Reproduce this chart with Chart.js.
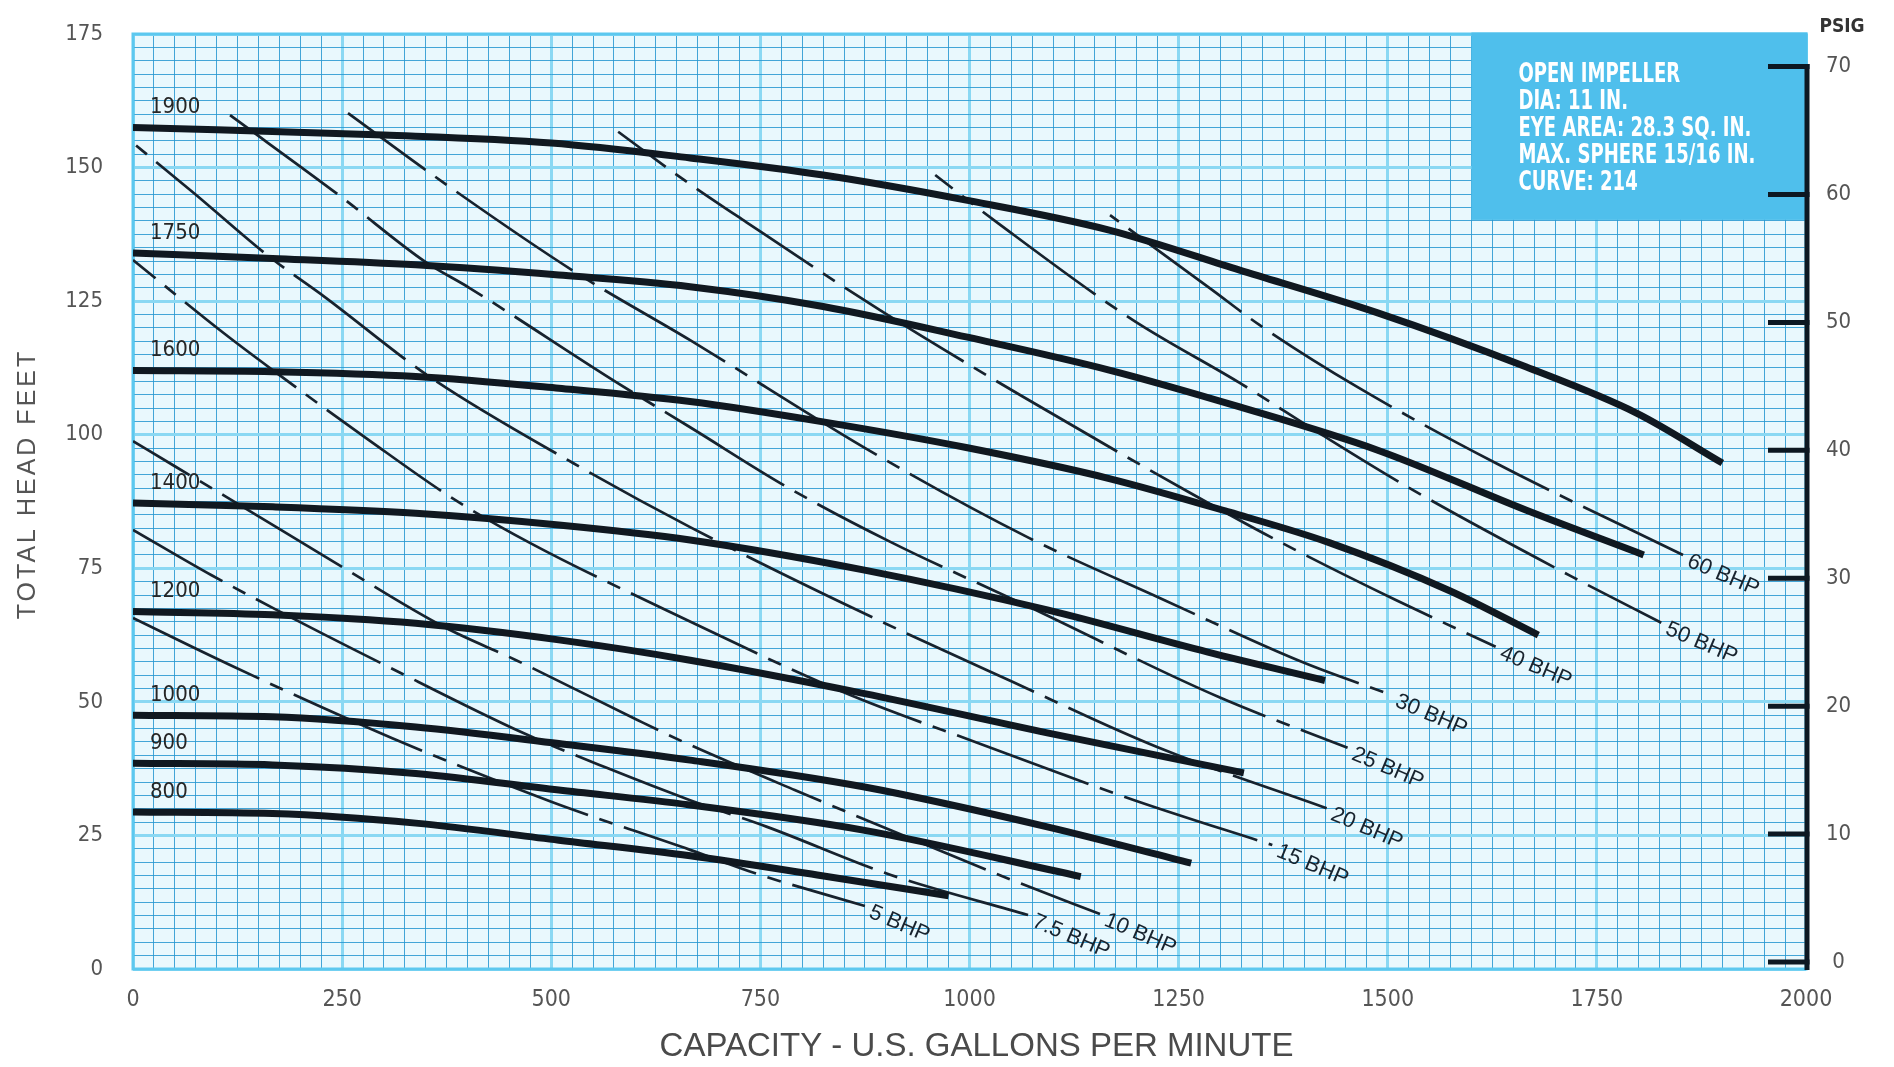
<!DOCTYPE html>
<html>
<head>
<meta charset="utf-8">
<title>Pump performance curve 214</title>
<script src="https://cdn.jsdelivr.net/npm/chart.js@4.4.1/dist/chart.umd.min.js"></script>
<style>
  html, body { margin: 0; padding: 0; background: #ffffff; }
  #wrap { width: 1894px; height: 1067px; }
</style>
</head>
<body>
<div id="wrap"><canvas id="pump" width="1894" height="1067"></canvas></div>
<script>
// ---- Axis tick values ----
const capacityTicks = [0, 250, 500, 750, 1000, 1250, 1500, 1750, 2000]; // U.S. GPM
const headTicks = [0, 25, 50, 75, 100, 125, 150, 175];                   // feet
const psigTicks = [0, 10, 20, 30, 40, 50, 60, 70];                       // PSIG

// ---- Head-capacity curves, [gpm, feet] per impeller speed (RPM) ----
const speedLabels = ['1900', '1750', '1600', '1400', '1200', '1000', '900', '800'];
const head1900 = [[0,157.5],[300,156.1],[500,154.6],[666,151.8],[825,148.6],[996,143.9],[1167,138.3],[1323,130.8],[1488,122.8],[1665,112.7],[1798,104.0],[1900,94.7]];
const head1750 = [[0,134.0],[167,133.0],[338,131.8],[509,129.9],[666,127.7],[825,124.0],[996,118.3],[1167,112.1],[1323,105.2],[1488,97.1],[1665,85.9],[1806,77.5]];
const head1600 = [[0,112.0],[167,111.8],[338,110.9],[509,108.7],[666,106.2],[825,102.4],[996,97.6],[1167,91.8],[1311,85.5],[1430,79.8],[1574,70.8],[1680,62.5]];
const head1400 = [[0,87.2],[167,86.5],[338,85.3],[509,83.1],[666,80.3],[873,74.7],[1093,67.2],[1285,59.3],[1425,54.0]];
const head1200 = [[0,66.9],[167,66.3],[338,64.7],[509,61.6],[666,57.8],[873,51.6],[1093,44.2],[1328,36.7]];
const head1000 = [[0,47.5],[167,47.2],[338,45.3],[509,42.2],[666,39.1],[873,34.1],[1093,26.6],[1265,19.8]];
const head900  = [[0,38.5],[167,38.2],[338,36.6],[509,33.5],[666,30.7],[873,26.0],[1133,17.3]];
const head800  = [[0,29.4],[167,29.1],[338,27.3],[509,24.1],[666,21.2],[818,17.6],[975,13.7]];

// ---- Constant brake-horsepower lines, [gpm, feet] ----
const bhpLabels = ['5 BHP', '7.5 BHP', '10 BHP', '15 BHP', '20 BHP', '25 BHP', '30 BHP', '40 BHP', '50 BHP', '60 BHP'];
const bhp5   = [[0,65.7],[116,56.9],[310,43.2],[500,31.3],[666,22.3],[750,17.6],[875,11.8]];
const bhp7_5 = [[0,82.2],[94,73.7],[167,67.6],[306,56.5],[466,44.2],[567,37.6],[666,31.6],[758,26.6],[906,17.6],[1070,10.1]];
const bhp10  = [[0,98.8],[51,94.0],[108,88.7],[240,76.2],[372,64.0],[458,57.8],[603,46.6],[658,42.5],[791,33.5],[1050,16.7],[1156,10.3]];
const bhp15  = [[0,132.7],[111,118.7],[167,112.1],[282,99.0],[385,87.8],[475,79.7],[637,67.2],[851,51.7],[1010,42.3],[1197,31.6],[1362,23.2]];
const bhp20  = [[0,154.6],[73,145.2],[163,133.3],[229,125.8],[355,110.8],[526,94.7],[666,82.7],[860,67.6],[1052,53.7],[1225,41.5],[1427,30.1]];
const bhp25  = [[116,159.8],[249,144.5],[350,132.3],[402,127.5],[579,109.7],[666,101.4],[782,90.2],[906,79.9],[1071,67.8],[1298,50.9],[1452,41.4]];
const bhp30  = [[257,160.2],[372,147.1],[530,130.3],[666,117.7],[885,96.6],[1071,80.7],[1228,69.4],[1400,57.3],[1504,51.3]];
const bhp40  = [[580,156.7],[654,148.2],[733,139.8],[893,123.3],[1064,107.1],[1264,89.1],[1374,79.7],[1509,69.1],[1629,60.3]];
const bhp50  = [[959,148.6],[1034,139.6],[1195,121.5],[1323,109.7],[1418,100.3],[1524,90.2],[1723,73.2],[1827,64.8]];
const bhp60  = [[1168,141.1],[1290,127.1],[1347,120.5],[1464,108.9],[1629,94.7],[1853,77.5]];

// ---- Impeller notes ----
const impellerNotes = ['OPEN IMPELLER', 'DIA: 11 IN.', 'EYE AREA: 28.3 SQ. IN.', 'MAX. SPHERE 15/16 IN.', 'CURVE: 214'];

const headCurves = [head1900, head1750, head1600, head1400, head1200, head1000, head900, head800];
const bhpCurves = [bhp5, bhp7_5, bhp10, bhp15, bhp20, bhp25, bhp30, bhp40, bhp50, bhp60];

const toPoints = arr => arr.map(([x, y]) => ({ x, y }));

const INK = '#101820';
const NARROW = '"Liberation Sans Narrow", "DejaVu Sans Condensed", "Roboto", sans-serif';
const SANS = '"Liberation Sans", Arial, sans-serif';

const datasets = [];
headCurves.forEach((c, i) => datasets.push({
  label: speedLabels[i] + ' RPM',
  startLabel: speedLabels[i],
  data: toPoints(c),
  borderColor: INK,
  borderWidth: 7,
  borderCapStyle: 'butt',
  pointRadius: 0,
  cubicInterpolationMode: 'monotone',
  fill: false
}));
bhpCurves.forEach((c, i) => datasets.push({
  label: bhpLabels[i],
  endLabel: bhpLabels[i],
  data: toPoints(c),
  borderColor: '#17222d',
  borderWidth: 2.7,
  borderDash: [140, 12, 14, 12],
  borderDashOffset: i * 37,
  pointRadius: 0,
  cubicInterpolationMode: 'monotone',
  fill: false
}));

// Graph-paper look: fine lines every 25 GPM / 2.5 ft, wide pale lines on the labelled values
const MINOR = 'rgba(38,150,208,0.85)';
const MAJOR = '#8ad8f3';

// fixed scale sizes so the plot area sits at a known place
const pinVertical = width => s => {
  s.width = width;
  s.paddingTop = 0;
  s.paddingBottom = 0;
};

const paperPlugin = {
  id: 'paper',
  beforeDraw(chart) {
    const { ctx, chartArea: a } = chart;
    ctx.save();
    ctx.fillStyle = '#ffffff';
    ctx.fillRect(0, 0, chart.width, chart.height);
    ctx.fillStyle = '#e9f8fd';
    ctx.fillRect(a.left, a.top, a.right - a.left, a.bottom - a.top);
    ctx.restore();
  },
  beforeDatasetsDraw(chart) {
    const { ctx, chartArea: a, scales: { x, y } } = chart;
    ctx.save();
    // plot frame
    ctx.strokeStyle = '#5cc8ef';
    ctx.lineWidth = 3;
    ctx.strokeRect(a.left, a.top, a.right - a.left, a.bottom - a.top);
    // notes panel in the top-right corner
    const bx = x.getPixelForValue(1600);
    const by = y.getPixelForValue(140.2);
    ctx.fillStyle = '#4fbfec';
    ctx.fillRect(bx, a.top - 1.5, a.right - bx + 1.5, by - a.top + 1.5);
    ctx.restore();
  },
  afterDatasetsDraw(chart) {
    const { ctx, chartArea: a, scales: { x, y, y1 } } = chart;
    ctx.save();

    // speed labels above the start of each head curve
    ctx.font = '22px ' + NARROW;
    ctx.fillStyle = '#262626';
    ctx.textAlign = 'left';
    ctx.textBaseline = 'middle';
    chart.data.datasets.forEach(ds => {
      if (!ds.startLabel) return;
      const p = ds.data[0];
      ctx.fillText(ds.startLabel, a.left + 17, y.getPixelForValue(p.y) - 20);
    });

    // horsepower labels at the end of each BHP line
    ctx.font = '22px ' + SANS;
    ctx.fillStyle = '#18232e';
    ctx.textBaseline = 'middle';
    chart.data.datasets.forEach(ds => {
      if (!ds.endLabel) return;
      const p = ds.data[ds.data.length - 1];
      ctx.save();
      ctx.translate(x.getPixelForValue(p.x), y.getPixelForValue(p.y));
      ctx.rotate(23 * Math.PI / 180);
      ctx.fillText(ds.endLabel, 7, 3);
      ctx.restore();
    });

    // PSIG axis: heavy line with inward ticks
    ctx.strokeStyle = '#0d1822';
    ctx.lineWidth = 5;
    ctx.lineCap = 'butt';
    const xr = a.right + 1;
    ctx.beginPath();
    ctx.moveTo(xr, y1.getPixelForValue(70) - 2.5);
    ctx.lineTo(xr, a.bottom + 1);
    ctx.stroke();
    psigTicks.forEach(v => {
      const yy = y1.getPixelForValue(v);
      ctx.beginPath();
      ctx.moveTo(xr - 39, yy);
      ctx.lineTo(xr + 2.5, yy);
      ctx.stroke();
    });

    // notes text in the panel
    const bx = x.getPixelForValue(1600);
    ctx.font = 'bold 26px ' + NARROW;
    ctx.fillStyle = '#ffffff';
    ctx.textBaseline = 'alphabetic';
    const widest = Math.max(...impellerNotes.map(t => ctx.measureText(t).width));
    const sx = 237 / widest;
    impellerNotes.forEach((t, i) => {
      ctx.save();
      ctx.translate(bx + 47, a.top + 48 + i * 27);
      ctx.scale(sx, 1);
      ctx.fillText(t, 0, 0);
      ctx.restore();
    });

    // PSIG caption
    ctx.font = 'bold 19px ' + NARROW;
    ctx.fillStyle = '#333333';
    ctx.textAlign = 'center';
    ctx.textBaseline = 'middle';
    ctx.fillText('PSIG', 1842, 27);

    // axis titles
    ctx.fillStyle = '#4a4a4a';
    ctx.font = '33px ' + SANS;
    ctx.textAlign = 'center';
    ctx.textBaseline = 'alphabetic';
    ctx.fillText('CAPACITY - U.S. GALLONS PER MINUTE', (a.left + a.right) / 2 + 7, 1056);

    ctx.save();
    ctx.translate(35, 484);
    ctx.rotate(-Math.PI / 2);
    ctx.font = '25px ' + SANS;
    ctx.fillStyle = '#555555';
    if ('letterSpacing' in ctx) ctx.letterSpacing = '3px';
    ctx.fillText('TOTAL HEAD FEET', 0, 0);
    ctx.restore();

    ctx.restore();
  }
};

new Chart(document.getElementById('pump'), {
  type: 'line',
  data: { datasets },
  options: {
    responsive: false,
    animation: false,
    devicePixelRatio: 1,
    parsing: true,
    layout: { padding: { top: 34, left: 0, right: 0, bottom: 0 } },
    plugins: { legend: { display: false }, tooltip: { enabled: false } },
    scales: {
      x: {
        type: 'linear',
        min: 0,
        max: 2000,
        afterBuildTicks: s => {
          const t = [];
          for (let i = 0; i <= 80; i++) t.push({ value: i * 25 });
          s.ticks = t;
        },
        afterFit: s => { s.height = 98; s.paddingLeft = 0; s.paddingRight = 0; },
        ticks: {
          autoSkip: false,
          maxRotation: 0,
          padding: 17,
          color: '#555555',
          font: { family: NARROW, size: 23 },
          callback: v => capacityTicks.includes(v) ? String(v) : ''
        },
        grid: {
          drawTicks: false,
          color: c => (c.tick && capacityTicks.includes(c.tick.value)) ? MAJOR : MINOR,
          lineWidth: c => (c.tick && capacityTicks.includes(c.tick.value)) ? 3 : 1
        },
        border: { display: false }
      },
      y: {
        type: 'linear',
        position: 'left',
        min: 0,
        max: 175,
        afterBuildTicks: s => {
          const t = [];
          for (let i = 0; i <= 70; i++) t.push({ value: i * 2.5 });
          s.ticks = t;
        },
        afterFit: pinVertical(133),
        ticks: {
          autoSkip: false,
          padding: 30,
          color: '#555555',
          font: { family: NARROW, size: 22 },
          callback: v => headTicks.includes(v) ? String(v) : ''
        },
        grid: {
          drawTicks: false,
          color: c => (c.tick && headTicks.includes(c.tick.value)) ? MAJOR : MINOR,
          lineWidth: c => (c.tick && headTicks.includes(c.tick.value)) ? 3 : 1
        },
        border: { display: false }
      },
      y1: {
        type: 'linear',
        position: 'right',
        min: -0.55,
        max: 72.55,
        afterBuildTicks: s => { s.ticks = psigTicks.map(v => ({ value: v })); },
        afterFit: pinVertical(88),
        ticks: {
          autoSkip: false,
          padding: 20,
          crossAlign: 'center',
          color: '#555555',
          font: { family: NARROW, size: 22 }
        },
        grid: { display: false, drawTicks: false },
        border: { display: false }
      }
    }
  },
  plugins: [paperPlugin]
});
</script>
</body>
</html>
